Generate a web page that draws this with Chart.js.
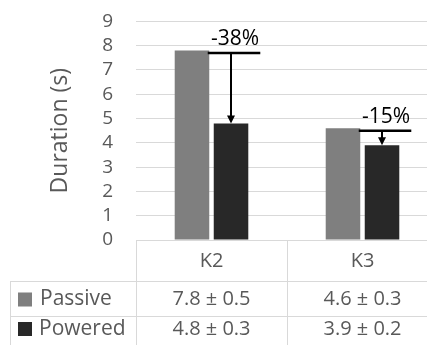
<!DOCTYPE html>
<html lang="en">
<head>
  <meta charset="UTF-8">
  <title>Duration - Passive vs Powered</title>
  <script src="https://cdn.jsdelivr.net/npm/chart.js"></script>
  <style>
    html, body { margin: 0; padding: 0; background: #fff; overflow: hidden; }
    .wrap { width: 440px; height: 345px; }
  </style>
</head>
<body>
  <div class="wrap"><canvas id="chart"></canvas></div>

  <script>
    const categories = ['K2', 'K3'];
    const passive = [7.8, 4.6];
    const powered = [4.8, 3.9];
    const passiveText = ['7.8 ± 0.5', '4.6 ± 0.3'];
    const poweredText = ['4.8 ± 0.3', '3.9 ± 0.2'];
    const changeLabels = ['-38%', '-15%'];

    const textGray = '#595959';
    const lineGray = '#d9d9d9';
    const passiveColor = '#7f7f7f';
    const poweredColor = '#282828';

    Chart.defaults.font.family = "'Open Sans', sans-serif";

    // table under the plot + the reduction arrows
    const tablePlugin = {
      id: 'dataTable',
      afterDraw(chart) {
        const ctx = chart.ctx;
        const area = chart.chartArea;
        const xs = chart.scales.x;
        const ys = chart.scales.y;
        const base = ys.getPixelForValue(0);
        const catW = xs.getPixelForValue(1) - xs.getPixelForValue(0);
        const row1 = base + 41, row2 = base + 76, bottom = chart.height;

        ctx.save();
        ctx.strokeStyle = lineGray;
        ctx.lineWidth = 1;
        ctx.beginPath();
        ctx.moveTo(area.left, base + 0.5); ctx.lineTo(chart.width, base + 0.5);
        ctx.moveTo(10, row1 + 0.5); ctx.lineTo(chart.width, row1 + 0.5);
        ctx.moveTo(10, row2 + 0.5); ctx.lineTo(chart.width, row2 + 0.5);
        ctx.moveTo(10.5, row1); ctx.lineTo(10.5, bottom);
        ctx.moveTo(area.left + 0.5, base); ctx.lineTo(area.left + 0.5, bottom);
        categories.forEach((c, i) => {
          const xr = Math.round(xs.getPixelForValue(i) + catW / 2) + 0.5;
          ctx.moveTo(xr, base); ctx.lineTo(xr, bottom);
        });
        ctx.stroke();

        ctx.fillStyle = textGray;
        ctx.font = "20px 'Open Sans', sans-serif";
        ctx.textBaseline = 'middle';
        ctx.textAlign = 'center';
        categories.forEach((c, i) => {
          const cx = xs.getPixelForValue(i);
          ctx.fillText(c, cx, (base + row1) / 2 + 1);
          ctx.fillText(passiveText[i], cx, (row1 + row2) / 2 + 1);
          ctx.fillText(poweredText[i], cx, row2 + 13);
        });

        ctx.textAlign = 'left';
        ctx.font = "21px 'Open Sans', sans-serif";
        ctx.fillText('Passive', 40, (row1 + row2) / 2 + 1);
        ctx.fillText('Powered', 39, row2 + 13);
        ctx.fillStyle = passiveColor;
        ctx.fillRect(18, (row1 + row2) / 2 - 6, 14, 14);
        ctx.fillStyle = poweredColor;
        ctx.fillRect(18, row2 + 6, 14, 14);

        // arrows
        const pMeta = chart.getDatasetMeta(0);
        const wMeta = chart.getDatasetMeta(1);
        ctx.strokeStyle = '#000';
        ctx.fillStyle = '#000';
        categories.forEach((c, i) => {
          const p = pMeta.data[i];
          const w = wMeta.data[i];
          const lineY = p.y + 2.5;
          const l = w.x - w.width / 2 - 6;
          const r = w.x + w.width / 2 + 12;
          ctx.lineWidth = 2.5;
          ctx.beginPath();
          ctx.moveTo(l, lineY); ctx.lineTo(r, lineY);
          ctx.stroke();
          ctx.lineWidth = 2;
          ctx.beginPath();
          ctx.moveTo(w.x, lineY); ctx.lineTo(w.x, w.y - 6);
          ctx.stroke();
          ctx.beginPath();
          ctx.moveTo(w.x, w.y);
          ctx.lineTo(w.x - 4, w.y - 8);
          ctx.lineTo(w.x + 4, w.y - 8);
          ctx.closePath();
          ctx.fill();

          ctx.font = "21px 'Open Sans', sans-serif";
          ctx.textAlign = 'center';
          ctx.textBaseline = 'alphabetic';
          ctx.fillText(changeLabels[i], (l + r) / 2 + 1, lineY - 8);
        });
        ctx.restore();
      }
    };

    new Chart(document.getElementById('chart'), {
      type: 'bar',
      data: {
        labels: categories,
        datasets: [
          { label: 'Passive', data: passive, backgroundColor: passiveColor,
            categoryPercentage: 0.517, barPercentage: 0.885 },
          { label: 'Powered', data: powered, backgroundColor: poweredColor,
            categoryPercentage: 0.517, barPercentage: 0.885 }
        ]
      },
      options: {
        responsive: true,
        maintainAspectRatio: false,
        animation: false,
        layout: { padding: { top: 0, right: 2, bottom: 105, left: 0 } },
        plugins: {
          legend: { display: false },
          tooltip: { enabled: false }
        },
        scales: {
          x: { display: false },
          y: {
            min: 0,
            max: 9,
            ticks: { stepSize: 1, autoSkip: false, color: textGray, font: { size: 19 }, padding: 10 },
            // invisible tick marks only push the labels left
            grid: { color: lineGray, drawTicks: true, tickLength: 13, tickColor: 'rgba(0,0,0,0)' },
            border: { display: false },
            title: {
              display: true,
              text: 'Duration (s)',
              color: textGray,
              font: { size: 23 },
              padding: { top: 47, bottom: 0 }
            },
            afterFit(scale) { scale.width = 136; }
          }
        }
      },
      plugins: [tablePlugin]
    });
  </script>
</body>
</html>
